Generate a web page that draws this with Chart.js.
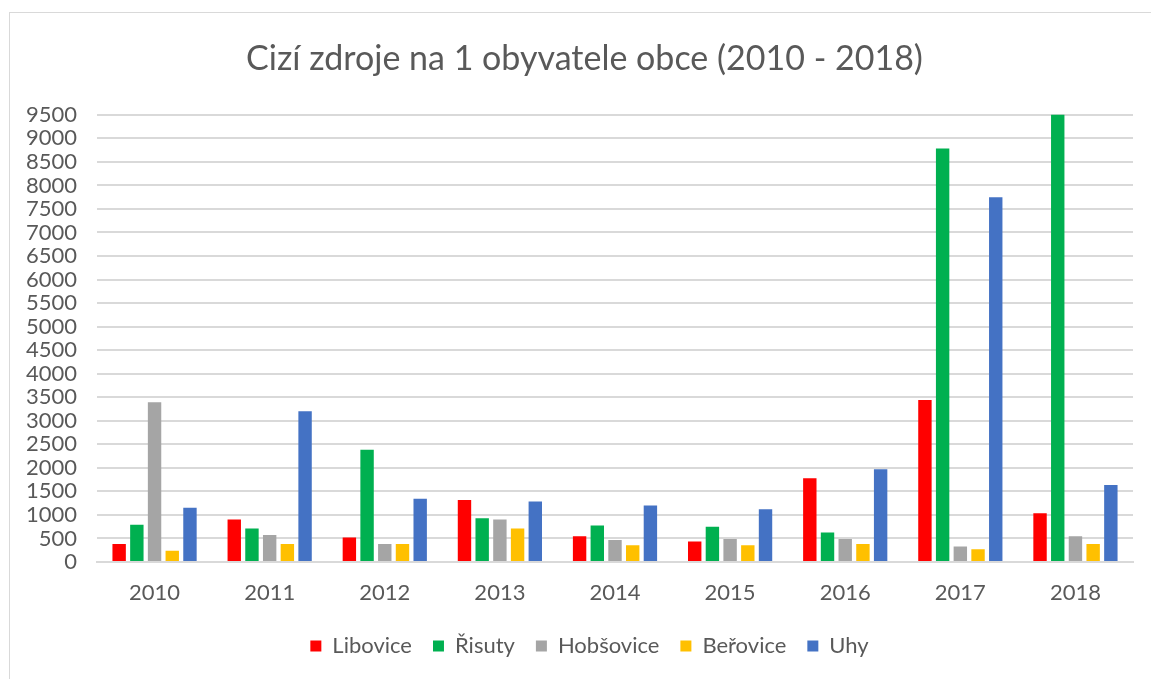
<!DOCTYPE html>
<html>
<head>
<meta charset="utf-8">
<script src="https://cdn.jsdelivr.net/npm/chart.js@4/dist/chart.umd.min.js"></script>
<style>
  html, body { margin: 0; padding: 0; background: #ffffff; }
  #wrap { position: relative; width: 1151px; height: 679px; overflow: hidden; }
  #frame { position: absolute; left: 9px; top: 12px; width: 1160px; height: 700px; border: 1px solid #d9d9d9; box-sizing: border-box; }
  canvas { position: absolute; left: 0; top: 0; }
</style>
</head>
<body>
<div id="wrap">
  <div id="frame"></div>
  <canvas id="c" width="1151" height="679"></canvas>
</div>
<script>
const titleText = "Cizí zdroje na 1 obyvatele obce (2010 - 2018)";
const years = ["2010", "2011", "2012", "2013", "2014", "2015", "2016", "2017", "2018"];
const seriesNames = ["Libovice", "Řisuty", "Hobšovice", "Beřovice", "Uhy"];
const libovice  = [384, 903, 519, 1315, 547, 434, 1778, 3442, 1037];
const risuty    = [790, 711, 2382, 931, 775, 747, 625, 8784, 9550];
const hobsovice = [3393, 576, 384, 903, 469, 491, 491, 327, 547];
const berovice  = [241, 384, 384, 711, 355, 355, 384, 269, 384];
const uhy       = [1152, 3201, 1344, 1287, 1202, 1123, 1970, 7746, 1635];
const colors = ["#FF0000", "#00B050", "#A5A5A5", "#FFC000", "#4472C4"];
const yMax = 9500, yStep = 500;

const FONT = "Lato, 'Open Sans', sans-serif";
const TXT = "#595959";
const seriesValues = [libovice, risuty, hobsovice, berovice, uhy];

// shift title and legend blocks so that they centre like the original
const shiftBoxes = {
  id: "shiftBoxes",
  afterLayout(chart) {
    if (chart.titleBlock) chart.titleBlock.left += 36;
    if (chart.legend) chart.legend.left += 46;
  }
};

new Chart(document.getElementById("c"), {
  type: "bar",
  data: {
    labels: years,
    datasets: seriesNames.map((n, i) => ({
      label: n,
      data: seriesValues[i],
      backgroundColor: colors[i],
      borderWidth: 0,
      categoryPercentage: 0.769,
      barPercentage: 0.757
    }))
  },
  plugins: [shiftBoxes],
  options: {
    responsive: false,
    animation: false,
    layout: { padding: { top: 20, left: 0, right: 18, bottom: 12 } },
    plugins: {
      title: {
        display: true,
        text: titleText,
        color: TXT,
        font: { family: FONT, size: 34, weight: "normal" },
        padding: { top: 19, bottom: 35 }
      },
      legend: {
        position: "bottom",
        labels: {
          color: TXT,
          font: { family: FONT, size: 22 },
          boxWidth: 11,
          boxHeight: 11,
          padding: 21
        }
      },
      tooltip: { enabled: false }
    },
    scales: {
      x: {
        grid: { display: false, drawTicks: false },
        border: { display: true, color: "#d9d9d9", width: 2 },
        ticks: { color: TXT, font: { family: FONT, size: 22 }, padding: 18, maxRotation: 0 },
        afterFit: (s) => { s.height = 52; }
      },
      y: {
        min: 0,
        max: yMax,
        grid: { color: "#d9d9d9", lineWidth: 2, drawTicks: false },
        border: { display: false },
        ticks: { stepSize: yStep, autoSkip: false, color: TXT, font: { family: FONT, size: 22 }, padding: 20,
                 callback: (v) => String(v) },
        afterFit: (s) => { s.width = 97; }
      }
    }
  }
});
</script>
</body>
</html>
